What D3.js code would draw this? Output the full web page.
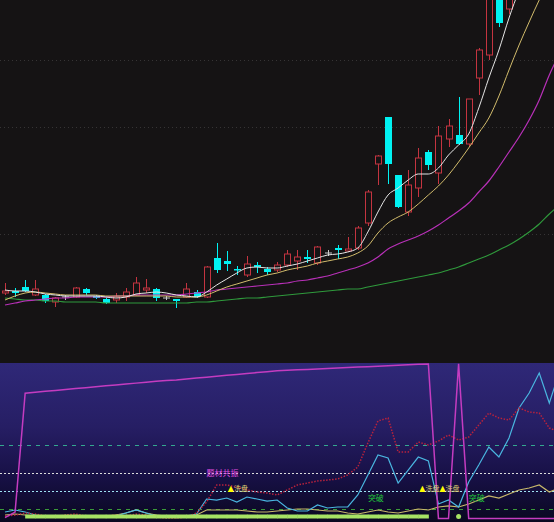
<!DOCTYPE html>
<html><head><meta charset="utf-8">
<script src="https://cdn.jsdelivr.net/npm/d3@7"></script>
<style>html,body{margin:0;padding:0;background:#151314;}svg{display:block}</style>
</head><body>
<svg id="c" width="554" height="522"></svg>
<script>
// ---------- data (price panel) ----------
const days = d3.range(56);
const open  = [6.35,6.45,6.65,6.25,6.25,5.90,6.15,6.15,6.55,6.20,6.05,6.00,6.15,6.25,6.50,6.55,6.10,6.05,6.15,6.40,
               6.15,8.10,7.95,7.55,7.25,7.75,7.55,7.50,7.75,7.95,8.15,7.85,8.35,8.60,8.45,8.60,9.85,12.80,15.15,12.25,
               10.40,11.60,13.40,12.35,14.05,14.25,13.80,17.10,18.25,21.50,20.55,22.50,24.00,25.00,26.00,27.00];
const high  = [6.85,6.60,7.00,7.00,6.30,6.15,6.25,6.65,6.60,6.25,6.10,6.35,6.60,7.15,7.05,6.60,6.20,6.05,6.85,6.50,
               7.70,8.85,8.45,7.70,8.20,7.90,7.65,7.90,8.50,8.50,8.50,8.70,8.50,8.75,9.15,9.70,11.50,13.25,15.15,12.25,
               12.50,13.60,13.50,14.70,15.05,16.15,16.05,18.60,21.50,21.80,22.50,24.00,25.50,26.50,27.50,28.50];
const low   = [6.25,6.15,6.40,6.20,5.85,5.65,6.00,6.10,6.25,6.05,5.80,5.85,5.95,6.20,6.35,5.95,6.00,5.60,6.10,6.10,
               6.10,7.35,7.45,7.25,7.15,7.35,7.25,7.40,7.65,7.50,7.85,7.75,8.20,8.05,8.40,8.50,9.70,11.75,11.80,10.60,
               10.20,11.15,12.50,11.80,13.65,13.75,13.65,16.25,18.00,19.65,20.30,22.00,23.50,24.50,25.50,26.50];
const close = [6.45,6.35,6.45,6.55,5.95,6.10,6.15,6.60,6.35,6.10,5.85,6.15,6.40,6.85,6.60,6.10,6.10,5.95,6.55,6.15,
               7.65,7.50,7.80,7.50,7.80,7.65,7.40,7.75,8.30,8.15,8.05,8.65,8.35,8.50,8.55,9.60,11.40,13.20,12.80,10.65,
               11.75,13.10,12.75,14.20,14.70,13.80,16.05,18.50,21.25,19.85,22.00,23.50,25.00,26.00,27.00,28.00];
const ma5   = [6.50,6.45,6.45,6.40,6.30,6.25,6.20,6.20,6.20,6.20,6.15,6.10,6.15,6.30,6.35,6.40,6.35,6.25,6.20,6.15,
               6.40,6.75,7.05,7.35,7.60,7.65,7.60,7.60,7.70,7.80,7.95,8.10,8.25,8.30,8.40,8.60,9.40,10.40,11.25,11.60,
               12.00,12.30,12.30,12.60,13.25,13.75,14.30,15.60,17.10,18.50,20.10,21.50,22.80,24.00,25.00,26.00];
const ma10  = [6.00,6.20,6.35,6.40,6.35,6.30,6.25,6.25,6.25,6.25,6.20,6.20,6.20,6.20,6.20,6.20,6.20,6.15,6.15,6.15,
               6.25,6.45,6.65,6.80,6.95,7.10,7.25,7.35,7.50,7.60,7.70,7.85,7.95,8.05,8.15,8.35,8.70,9.35,9.85,10.15,
               10.40,10.80,11.25,11.70,12.25,12.90,13.60,14.35,15.10,16.20,17.50,18.75,19.90,21.00,22.00,23.00];
const ma20  = [5.75,5.85,5.95,6.00,6.05,6.10,6.10,6.15,6.15,6.15,6.15,6.20,6.20,6.25,6.25,6.25,6.25,6.25,6.30,6.35,
               6.40,6.50,6.55,6.60,6.65,6.70,6.75,6.80,6.85,6.95,7.00,7.10,7.20,7.35,7.50,7.65,7.85,8.15,8.55,8.80,
               9.00,9.20,9.45,9.75,10.10,10.45,10.85,11.40,11.95,12.65,13.40,14.15,15.00,16.00,17.25,18.30];
const ma60  = [6.10,6.05,6.00,6.00,5.95,5.95,5.90,5.90,5.90,5.90,5.85,5.85,5.85,5.85,5.85,5.85,5.85,5.85,5.85,5.90,
               5.90,5.95,6.00,6.05,6.10,6.10,6.15,6.20,6.25,6.30,6.35,6.40,6.45,6.50,6.55,6.55,6.65,6.75,6.85,6.95,
               7.05,7.15,7.25,7.35,7.50,7.65,7.85,8.05,8.25,8.50,8.75,9.05,9.40,9.80,10.30,10.75];
const gridPrices = [18.0, 14.65, 9.3];

// ---------- data (indicator panel) ----------
const sigMagenta = [1,7,137,138,139,140,141,142,143,144,145,146,147,148,149,150,151,151.5,152.5,153.5,
                    154.5,155.5,156.5,157.5,158.5,159.5,160.5,161.5,162,162.5,163,163.5,164,164.5,165,165.5,166,166.5,167,167.5,
                    168,168.5,169,0,0,169,0,0,0,0,0,0,0,0,0,0];
const sigRed = [2.7,3.8,6,4.9,2.7,1.6,3.8,4.9,2.7,1.6,2.7,3.8,2.7,4.9,3.8,1.6,0.5,0.5,1.6,6,
                18,36.6,36.6,34.4,31.2,29,27.9,25.7,31.2,36.6,38.8,41,42.1,43.2,47.6,56.3,82.5,106.6,109.9,72.7,
                72.7,83.6,80.4,84.7,91.3,85.8,89,102.2,115.3,109.9,107.7,120.8,116.4,115.3,98.9,94.6];
const sigCyan = [7.1,9.3,7.1,3.8,2.7,2.7,2.7,2.7,2.7,2.7,2.7,2.7,6,9.3,6,2.7,2.7,2.7,2.7,4.9,
                 21.3,20.2,22.4,18,23.5,21.3,19.1,20.2,11.5,8.2,8.2,14.8,11.5,12.6,12.6,25.7,47.6,69.4,66.1,38.8,
                 53,67.2,62.9,15.9,20.2,12.6,39.9,58.5,78.2,67.2,88,120.8,137.2,159.1,126.3,160.2];
const sigKhaki = [3.8,4.9,3.8,2.7,2.7,2.7,2.7,2.7,2.7,2.7,2.7,3.8,6,9.3,6,3.8,2.7,2.7,2.7,3.8,
                  9.3,9.3,9.3,9.3,8.2,7.1,7.1,8.2,9.3,10.4,10.4,9.3,8.2,8.2,6,4.9,7.1,9.3,7.1,6,
                  8.2,10.4,9.3,12.6,13.7,12.6,15.9,20.2,24.6,22.4,26.8,31.2,33.3,36.6,29,33.3];
const limeFlag = [0,0,1,1,1,1,1,1,1,1,1,1,1,1,1,1,1,1,1,1,
                  1,1,1,1,1,1,1,1,1,1,1,1,1,1,1,1,1,1,1,1,
                  1,1,1,0,0,1,0,0,0,0,0,0,0,0,0,0];
const refLevels = [80, 50, 30, 10];
const signalLabels = [
  {day:20, level:50, text:"题材共振", kind:"theme"},
  {day:22, level:33, text:"洗盘", kind:"wash"},
  {day:41, level:33, text:"洗盘", kind:"wash"},
  {day:43, level:33, text:"洗盘", kind:"wash"},
  {day:36, level:22, text:"突破", kind:"break"},
  {day:46, level:22, text:"突破", kind:"break"}
];

// ---------- drawing ----------
const W = 554, H = 522;
const svg = d3.select("#c");
svg.append("rect").attr("width", W).attr("height", H).attr("fill", "#151314");

const x = d3.scaleLinear().domain([0, 55]).range([5, 5 + 55 * 10.08]);
const y = d3.scaleLinear().domain([4, 21]).range([340, 0]);

const defs = svg.append("defs");
defs.append("clipPath").attr("id", "cTop").append("rect").attr("x", 0).attr("y", 0).attr("width", W).attr("height", 340);
defs.append("clipPath").attr("id", "cBot").append("rect").attr("x", 0).attr("y", 363).attr("width", W).attr("height", H - 363);
const grad = defs.append("linearGradient").attr("id", "gBot").attr("x1", 0).attr("x2", 0).attr("y1", 0).attr("y2", 1);
[["0%", "#2f2878"], ["40%", "#261e64"], ["72%", "#171045"], ["100%", "#0a0820"]].forEach(s =>
  grad.append("stop").attr("offset", s[0]).attr("stop-color", s[1]));

const topG = svg.append("g").attr("clip-path", "url(#cTop)");
topG.selectAll("line.grid").data(gridPrices).join("line").attr("class", "grid")
  .attr("x1", 0).attr("x2", W).attr("y1", d => Math.round(y(d)) + 0.5).attr("y2", d => Math.round(y(d)) + 0.5)
  .attr("stroke", "#363435").attr("stroke-dasharray", "1,3");

const RED = "#c43440", CYAN = "#00f2f2", GRAY = "#c8c8c8";
const cg = topG.append("g");
days.forEach(i => {
  const o = open[i], c = close[i], h = high[i], l = low[i];
  const cx = Math.round(x(i)) + 0.5;
  const up = c > o, doji = c === o;
  const col = up ? RED : (doji ? GRAY : CYAN);
  if (up) {
    cg.append("line").attr("x1", cx).attr("x2", cx).attr("y1", y(h)).attr("y2", y(c)).attr("stroke", col);
    cg.append("line").attr("x1", cx).attr("x2", cx).attr("y1", y(o)).attr("y2", y(l)).attr("stroke", col);
    cg.append("rect").attr("x", cx - 3).attr("width", 6).attr("y", y(c)).attr("height", Math.max(1, y(o) - y(c)))
      .attr("fill", "#151314").attr("stroke", col);
  } else {
    cg.append("line").attr("x1", cx).attr("x2", cx).attr("y1", y(h)).attr("y2", y(l)).attr("stroke", col);
    if (doji) {
      cg.append("line").attr("x1", cx - 3.5).attr("x2", cx + 3.5).attr("y1", y(o)).attr("y2", y(o)).attr("stroke", col);
    } else {
      cg.append("rect").attr("x", cx - 3.5).attr("width", 7).attr("y", y(o)).attr("height", Math.max(1.5, y(c) - y(o)))
        .attr("fill", col);
    }
  }
});

const lineTop = d3.line().x((d, i) => x(i)).y(d => y(d)).curve(d3.curveMonotoneX);
[[ma60, "#2f9a3c", 1.1], [ma20, "#b830b8", 1.2], [ma10, "#d2bc6c", 1], [ma5, "#e6e6e6", 1]].forEach(([arr, col, w]) =>
  topG.append("path").datum(arr).attr("d", lineTop).attr("fill", "none").attr("stroke", col).attr("stroke-width", w));

// ---------- indicator panel ----------
const yl = d3.scaleLinear().domain([0, 170]).range([518.5, 363]);
svg.append("rect").attr("x", 0).attr("y", 363).attr("width", W).attr("height", H - 363).attr("fill", "url(#gBot)");
const bot = svg.append("g").attr("clip-path", "url(#cBot)");

const refStyle = [["#34a890", "4,5"], ["#dcdcdc", "2,2"], ["#9fe2f2", "2,2"], ["#3a9a3a", "4,5"]];
bot.selectAll("line.ref").data(refLevels).join("line").attr("class", "ref")
  .attr("x1", 0).attr("x2", W).attr("y1", d => Math.round(yl(d)) + 0.5).attr("y2", d => Math.round(yl(d)) + 0.5)
  .attr("stroke", (d, i) => refStyle[i][0]).attr("stroke-dasharray", (d, i) => refStyle[i][1]).attr("stroke-width", 1.2);

const lineBot = d3.line().x((d, i) => x(i)).y(d => yl(d));
bot.append("path").datum(sigKhaki).attr("d", lineBot).attr("fill", "none").attr("stroke", "#c8b86a").attr("stroke-width", 1.2);
bot.append("path").datum(sigCyan).attr("d", lineBot).attr("fill", "none").attr("stroke", "#4ab6e0").attr("stroke-width", 1.2);
bot.append("path").datum(sigRed).attr("d", lineBot).attr("fill", "none").attr("stroke", "#b8223c").attr("stroke-width", 1.5)
  .attr("stroke-dasharray", "1.5,1.5");

// lime state bar (drawn over the low lines)
days.forEach(i => {
  if (!limeFlag[i]) return;
  const prev = i > 0 && limeFlag[i - 1], next = i < days.length - 1 && limeFlag[i + 1];
  if (next) bot.append("line").attr("x1", x(i)).attr("x2", x(i + 1) + 0.5).attr("y1", yl(0) - 2).attr("y2", yl(0) - 2)
    .attr("stroke", "#a6e264").attr("stroke-width", 4);
  if (!prev && !next) bot.append("circle").attr("cx", x(i)).attr("cy", yl(0) - 2).attr("r", 2.5).attr("fill", "#a6e264");
});

bot.append("path").datum(sigMagenta).attr("d", lineBot).attr("fill", "none").attr("stroke", "#c43cc0").attr("stroke-width", 1.5);

const lab = bot.append("g").attr("font-family", "'Noto Sans CJK SC', sans-serif").attr("font-size", 8);
signalLabels.forEach(s => {
  const t = lab.append("text").attr("y", yl(s.level)).attr("dy", "0.35em");
  if (s.kind === "theme") {
    t.attr("x", x(s.day)).attr("fill", "#e04ee0").text(s.text);
  } else if (s.kind === "wash") {
    t.attr("x", x(s.day) + 1).attr("font-size", 7);
    t.append("tspan").attr("fill", "#ffff00").attr("font-family", "DejaVu Sans").attr("font-size", 8).text("▲");
    t.append("tspan").attr("fill", "#dccc70").text(s.text);
  } else {
    t.attr("x", x(s.day)).attr("fill", "#22c43a").text(s.text);
  }
});
</script>
</body></html>
